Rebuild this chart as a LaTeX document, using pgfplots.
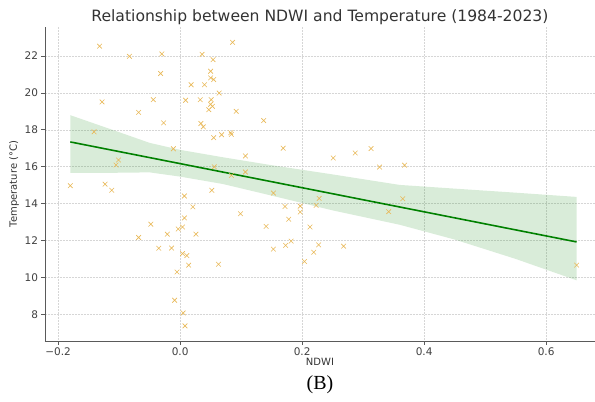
\documentclass[border=0pt]{standalone}
\usepackage{pgfplots}
\pgfplotsset{compat=1.18}
\usepackage{fontspec}
\setmainfont{DejaVu Sans}
\newfontfamily\capfont{Liberation Serif}
\definecolor{ptc}{RGB}{232,184,88}
\definecolor{lgreen}{RGB}{0,128,0}
\definecolor{spine}{RGB}{90,90,90}
\begin{document}
\begin{tikzpicture}
\useasboundingbox (-45pt,-61pt) rectangle (550pt,341pt);
\begin{axis}[
  at={(0pt,0pt)}, anchor=south west,
  scale only axis, width=549.9pt, height=314pt,
  xmin=-0.2215, xmax=0.68, ymin=6.55, ymax=23.57,
  axis x line*=bottom, axis y line*=left,
  axis line style={spine, line width=0.8pt},
  xtick={-0.2,0,0.2,0.4,0.6},
  xticklabels={−0.2,0.0,0.2,0.4,0.6},
  ytick={8,10,12,14,16,18,20,22},
  tick align=outside, major tick length=3.5pt,
  tick style={spine, line width=0.7pt},
  /pgf/number format/assume math mode=true,
  tick label style={font=\fontsize{10.5}{12}\selectfont, text=black!75},
  grid=major,
  major grid style={gray!32, line width=0.5pt, densely dotted},
  clip=false,
]
\addplot[only marks, mark=x, mark size=3.3pt, color=ptc, mark options={line width=0.6pt}] coordinates {
(-0.180,14.97) (-0.141,17.89) (-0.132,22.53) (-0.128,19.51) (-0.123,15.05)
(-0.112,14.72) (-0.105,16.09) (-0.101,16.36) (-0.083,21.98) (-0.068,18.94)
(-0.044,19.63) (-0.030,22.11) (-0.032,21.05) (-0.027,18.37) (-0.011,16.97)
(0.086,22.74) (0.036,22.09) (0.054,21.80) (0.050,21.17) (0.050,20.81)
(0.055,20.72) (0.018,20.44) (0.040,20.44) (0.064,19.99) (0.009,19.60)
(0.033,19.63) (0.051,19.63) (0.050,19.38) (0.053,19.27) (0.047,19.09)
(0.092,19.00) (0.034,18.34) (0.038,18.16) (0.055,17.57) (0.068,17.73)
(0.083,17.84) (0.084,17.75) (0.056,15.99) (0.084,15.53) (0.107,15.71)
(0.107,16.58) (0.052,14.72) (0.007,14.41) (0.021,13.82) (0.099,13.45)
(0.007,13.22) (-0.048,12.88) (-0.021,12.34) (-0.003,12.62) (0.004,12.73)
(0.026,12.34) (-0.068,12.16) (-0.035,11.58) (-0.014,11.59) (0.004,11.29)
(0.011,11.18) (0.014,10.66) (0.063,10.71) (-0.005,10.29) (-0.009,8.76)
(0.005,8.07) (0.008,7.37) (0.137,18.50) (0.169,17.00) (0.251,16.47)
(0.287,16.74) (0.313,16.98) (0.327,15.98) (0.368,16.08) (0.153,14.57)
(0.172,13.84) (0.197,13.86) (0.197,13.54) (0.223,13.90) (0.228,14.28)
(0.141,12.76) (0.178,13.15) (0.213,12.73) (0.153,11.53) (0.173,11.73)
(0.182,11.96) (0.227,11.76) (0.219,11.36) (0.204,10.86) (0.268,11.69)
(0.342,13.56) (0.365,14.26) (0.650,10.66)
};
\addplot[draw=none, fill=lgreen, fill opacity=0.15] coordinates {
(-0.18,18.79) (-0.10,17.87) (-0.05,17.29) (0.00,16.91) (0.07,16.51) (0.15,16.08)
(0.25,15.58) (0.36,15.01) (0.45,14.81) (0.55,14.59) (0.65,14.36)
(0.65,9.84) (0.55,11.00) (0.45,12.05) (0.36,12.85) (0.25,13.63) (0.15,14.43)
(0.07,15.06) (0.00,15.46) (-0.05,15.69) (-0.10,15.67) (-0.18,15.66)
} -- cycle;
\addplot[lgreen, line width=1.6pt] coordinates {(-0.18,17.34) (0.65,11.92)};
\node[font=\fontsize{15.6}{18}\selectfont, text=black!80] at (rel axis cs:0.5,1) [yshift=10pt] {Relationship between NDWI and Temperature (1984-2023)};
\node[font=\fontsize{10}{12}\selectfont, text=black!80] at (rel axis cs:0.5,0) [yshift=-21pt] {NDWI};
\node[font=\fontsize{10}{12}\selectfont, text=black!80, rotate=90] at (rel axis cs:0,0.5) [yshift=31pt] {Temperature (°C)};
\node[font=\capfont\fontsize{20}{22}\selectfont] at (rel axis cs:0.5,0) [yshift=-44pt] {(B)};
\end{axis}
\end{tikzpicture}
\end{document}
